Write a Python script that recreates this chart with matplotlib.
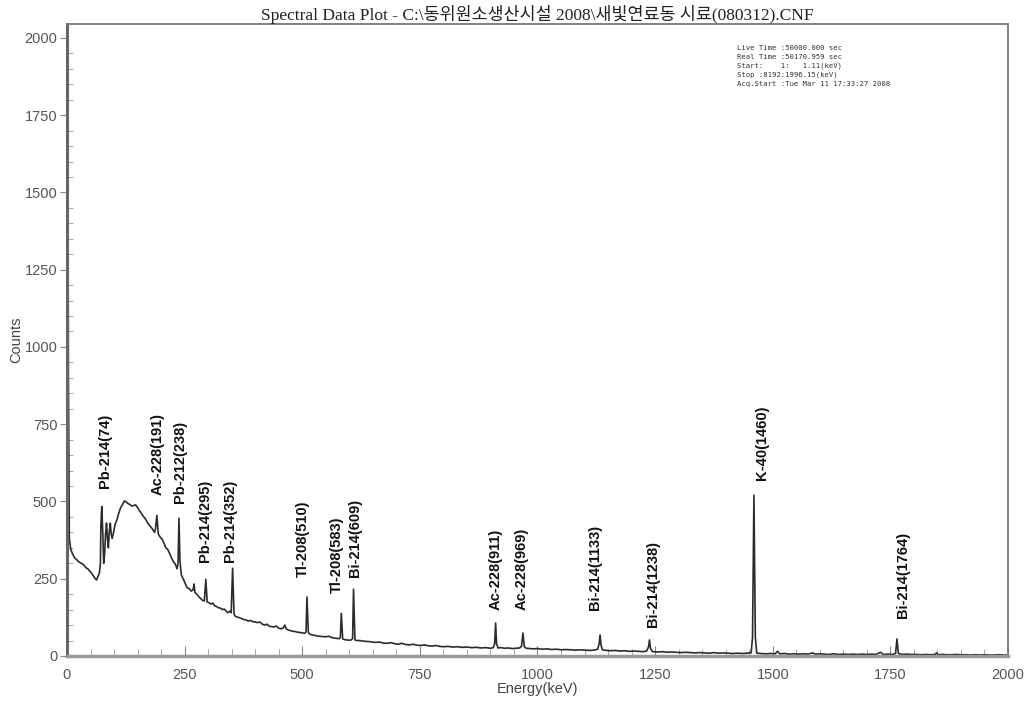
import matplotlib
matplotlib.use("Agg")
import matplotlib.pyplot as plt
from matplotlib.ticker import MultipleLocator

# gamma spectrum traced as (energy, counts) vertices
energy_kev = [
    0, 1, 2, 3, 5, 8, 12, 16, 20, 25, 30, 35,
    40, 45, 50, 55, 60, 63, 66, 69, 71, 72,
    74, 76, 78, 80, 82, 84, 86, 88, 90, 92,
    94, 96, 99, 102, 106, 110, 114, 118, 122, 126,
    130, 134, 138, 142, 146, 150, 154, 158, 162, 166,
    170, 174, 178, 182, 186, 188, 191, 194, 198, 202,
    206, 210, 214, 218, 222, 226, 230, 234, 236, 238,
    240, 243, 247, 252, 256, 260, 264, 268, 270, 272,
    276, 280, 284, 288, 292, 295, 298, 302, 306, 310,
    314, 318, 322, 326, 330, 334, 338, 342, 346, 349,
    352, 355, 358, 362, 366, 370, 375, 380, 385, 390,
    395, 400, 405, 410, 415, 420, 425, 430, 435, 440,
    445, 450, 455, 460, 463, 466, 470, 475, 480, 485,
    490, 495, 500, 505, 508, 510, 513, 517, 522, 528,
    535, 542, 550, 556, 562, 568, 574, 579, 581, 583,
    586, 590, 595, 600, 604, 607, 609, 612, 616, 622,
    630, 638, 646, 655, 664, 672, 680, 688, 696, 704,
    712, 720, 728, 736, 744, 752, 760, 768, 776, 784,
    792, 800, 810, 820, 830, 840, 850, 860, 870, 880,
    890, 900, 906, 909, 911, 913, 916, 922, 930, 938,
    946, 954, 962, 966, 969, 972, 976, 984, 992, 1000,
    1010, 1020, 1030, 1040, 1050, 1060, 1070, 1080, 1090, 1100,
    1110, 1120, 1128, 1131, 1133, 1135, 1138, 1146, 1155, 1165,
    1175, 1185, 1195, 1205, 1215, 1225, 1232, 1236, 1238, 1240,
    1244, 1255, 1265, 1275, 1285, 1295, 1305, 1315, 1325, 1335,
    1345, 1355, 1365, 1375, 1385, 1395, 1405, 1415, 1425, 1435,
    1445, 1454, 1457, 1460, 1463, 1466, 1475, 1485, 1495, 1505,
    1510, 1515, 1525, 1535, 1545, 1555, 1565, 1575, 1585, 1590,
    1600, 1610, 1620, 1630, 1640, 1650, 1660, 1670, 1680, 1690,
    1700, 1710, 1720, 1729, 1735, 1745, 1755, 1761, 1764, 1767,
    1775, 1785, 1795, 1805, 1815, 1825, 1835, 1845, 1848, 1852,
    1860, 1870, 1880, 1890, 1900, 1910, 1920, 1930, 1940, 1950,
    1960, 1970, 1980, 1990, 1996,
]
counts = [
    0, 1400, 1668, 900, 380, 345, 330, 318, 312, 305, 300, 296,
    286, 281, 272, 262, 250, 246, 258, 270, 300, 420,
    484, 400, 300, 330, 395, 430, 380, 350, 405, 430,
    395, 380, 400, 425, 440, 462, 480, 490, 502, 498,
    493, 490, 485, 487, 489, 480, 470, 462, 452, 445,
    435, 425, 418, 410, 400, 410, 455, 395, 385, 378,
    366, 350, 345, 332, 318, 305, 298, 282, 300, 446,
    310, 262, 250, 232, 220, 218, 210, 214, 233, 205,
    200, 192, 186, 180, 178, 248, 175, 172, 168, 171,
    162, 160, 156, 155, 150, 152, 146, 140, 145, 140,
    284, 135, 128, 126, 124, 122, 118, 117, 113, 115,
    111, 110, 108, 110, 103, 100, 103, 96, 95, 94,
    97, 90, 88, 91, 100, 88, 84, 82, 80, 79,
    77, 76, 75, 73, 78, 191, 75, 70, 68, 66,
    64, 63, 62, 64, 60, 58, 57, 56, 60, 138,
    55, 53, 52, 51, 52, 56, 216, 52, 50, 50,
    48, 47, 46, 44, 45, 42, 41, 43, 40, 38,
    41, 37, 36, 38, 35, 34, 36, 33, 32, 34,
    31, 30, 31, 29, 30, 28, 29, 27, 28, 26,
    27, 25, 27, 40, 107, 40, 26, 27, 25, 26,
    24, 25, 26, 32, 74, 30, 25, 24, 23, 24,
    22, 23, 21, 22, 20, 21, 20, 19, 20, 19,
    18, 19, 22, 40, 68, 35, 20, 18, 17, 18,
    16, 17, 15, 16, 15, 14, 16, 30, 52, 25,
    14, 13, 14, 12, 13, 12, 11, 12, 11, 10,
    11, 10, 9, 11, 9, 10, 9, 8, 9, 8,
    9, 10, 60, 520, 60, 9, 8, 7, 8, 7,
    15, 7, 8, 6, 7, 6, 7, 6, 10, 6,
    7, 6, 5, 7, 5, 6, 5, 6, 5, 6,
    5, 6, 5, 12, 5, 6, 5, 8, 55, 8,
    5, 6, 5, 5, 4, 5, 4, 5, 10, 4,
    5, 4, 4, 5, 4, 4, 3, 4, 3, 4,
    3, 3, 4, 3, 3,
]

# identified lines
peak_names = ["Pb-214(74)", "Ac-228(191)", "Pb-212(238)", "Pb-214(295)",
              "Pb-214(352)", "Tl-208(510)", "Tl-208(583)", "Bi-214(609)",
              "Ac-228(911)", "Ac-228(969)", "Bi-214(1133)", "Bi-214(1238)",
              "K-40(1460)", "Bi-214(1764)"]
peak_energy = [74, 191, 238, 295, 352, 510, 583, 609, 911, 969,
               1133, 1238, 1460, 1764]

# where each label sits (bottom of the rotated text)
label_y = [543, 520, 494, 304, 304, 255, 204, 255, 149, 149,
           149, 94, 569, 123]
label_dx = [7, 2, 2, -2, -6, -8, -9, 3, -1, -2, -11, 7, 17, 13]

acq_info = ("Live Time :50000.000 sec\n"
            "Real Time :50170.959 sec\n"
            "Start:    1:   1.11(keV)\n"
            "Stop :8192:1996.15(keV)\n"
            "Acq.Start :Tue Mar 11 17:33:27 2008")

SANS = ["Liberation Sans", "DejaVu Sans"]
TICK_GRAY = "#555555"

fig = plt.figure(figsize=(10.29, 7.04), dpi=100)
ax = fig.add_axes([0.0651, 0.0682, 0.9145, 0.8977])

ax.plot(energy_kev, counts, color="#2b2b2b", lw=1.2)

for name, e, y, dx in zip(peak_names, peak_energy, label_y, label_dx):
    ax.text(e + dx, y, name, rotation=90, ha="center", va="bottom",
            fontsize=10.5, fontweight="bold", family=SANS, color="#111111")

ax.text(0.712, 0.967, acq_info, transform=ax.transAxes, ha="left", va="top",
        fontsize=5.2, family="DejaVu Sans Mono", color="#333333",
        linespacing=1.55)

ax.set_xlim(0, 2000)
ax.set_ylim(0, 2045)
ax.xaxis.set_major_locator(MultipleLocator(250))
ax.xaxis.set_minor_locator(MultipleLocator(50))
ax.yaxis.set_major_locator(MultipleLocator(250))
ax.yaxis.set_minor_locator(MultipleLocator(50))

ax.tick_params(axis="x", which="major", direction="in", length=7,
               color="#888888", labelsize=10.5, labelcolor=TICK_GRAY, pad=9)
ax.tick_params(axis="x", which="minor", direction="in", length=5,
               color="#999999")
ax.tick_params(axis="y", which="major", direction="out", length=5,
               color="#888888", labelsize=10.5, labelcolor=TICK_GRAY, pad=2)
ax.tick_params(axis="y", which="minor", direction="in", length=4,
               color="#999999")
for lab in ax.get_xticklabels() + ax.get_yticklabels():
    lab.set_family(SANS)

for side in ["top", "right"]:
    ax.spines[side].set_color("#777777")
    ax.spines[side].set_linewidth(1.3)
ax.spines["left"].set_color("#666666")
ax.spines["left"].set_linewidth(2.2)
ax.spines["bottom"].set_color("#999999")
ax.spines["bottom"].set_linewidth(2.5)

ax.set_xlabel("Energy(keV)", fontsize=10.5, family=SANS, color="#444444",
              labelpad=0)
ax.set_ylabel("Counts", fontsize=10.5, family=SANS, color="#444444",
              labelpad=1)

ax.set_title("Spectral Data Plot - C:\\동위원소생산시설 2008\\새빛연료동 시료(080312).CNF",
             fontsize=12.5, family=["Liberation Serif", "Noto Sans CJK KR"],
             color="#222222", pad=3)

fig.savefig("out.png", dpi=100, facecolor="white")
